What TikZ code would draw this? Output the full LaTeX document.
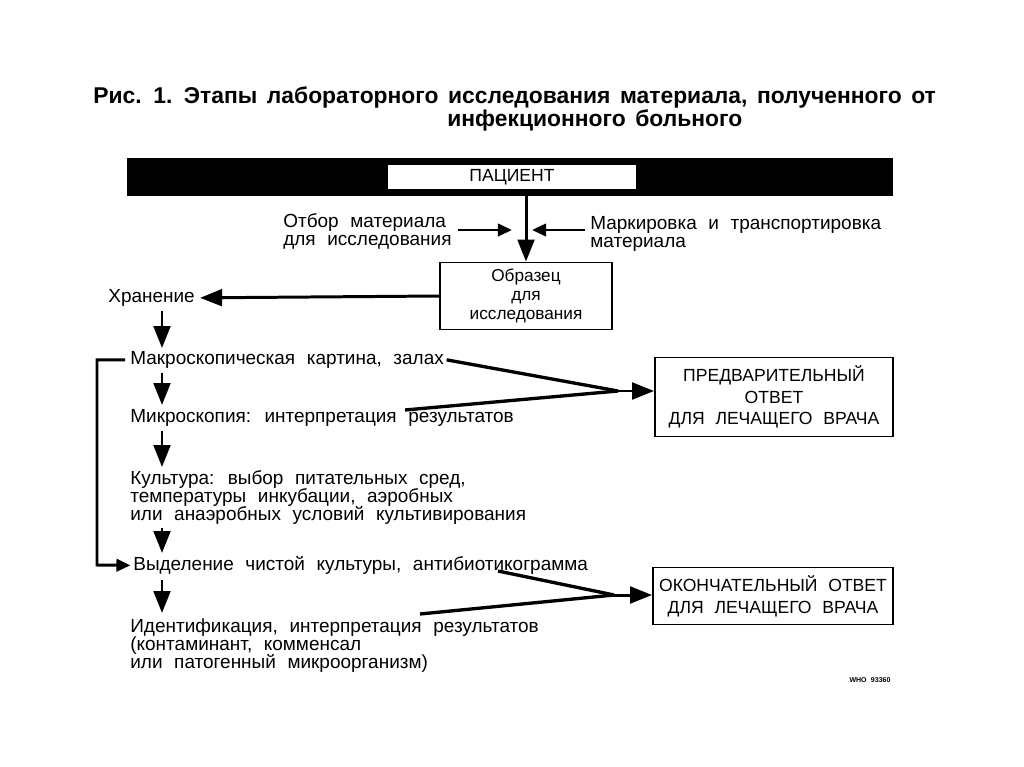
\documentclass[tikz,border=0pt]{standalone}
\usepackage{fontspec}
\setmainfont{Liberation Sans}[WordSpace=2.2]
\newfontfamily\titlefont{Liberation Sans}[WordSpace=1.5]
\usetikzlibrary{arrows.meta, positioning}
\tikzset{
  stagetext/.style={
    anchor=north west, align=left, inner sep=0pt,
    font=\fontsize{10.8}{10.3}\selectfont
  },
  titletext/.style={
    anchor=base west, inner sep=0pt,
    font=\titlefont\fontsize{13}{13}\selectfont\bfseries
  },
  answerbox/.style={
    rectangle, draw, line width=1.1pt, align=center,
    font=\fontsize{10}{12.4}\selectfont
  },
  bigarrow/.style={-{Triangle[length=12.5pt,width=9.5pt]}, line width=1.7pt},
  sidearrow/.style={-{Triangle[length=8pt,width=7pt]}, line width=1.7pt},
  joinline/.style={line width=1.9pt},
}

\begin{document}
\begin{tikzpicture}[x=0.02cm, y=-0.02cm]
  \useasboundingbox (0,0) rectangle (1024,767);

  % title
  \node[titletext] (title1) at (93,104)
    {Рис. 1. Этапы лабораторного исследования материала, полученного от};
  \node[titletext] (title2) at (447,127) {инфекционного больного};

  % patient bar
  \node[fill=black, minimum width=15.32cm, minimum height=0.76cm, inner sep=0pt]
    (bar) at (510,177) {};
  \node[fill=white, minimum width=4.96cm, minimum height=0.48cm, inner sep=0pt,
        font=\fontsize{10}{11}\selectfont] (patient) at (512,177) {ПАЦИЕНТ};

  \node[answerbox, minimum width=3.44cm, minimum height=1.34cm,
        font=\fontsize{9.8}{10.6}\selectfont] (sample) at (526,296)
    {Образец\\для\\исследования};

  \node[stagetext] (take) at (283,213) {Отбор материала\\для исследования};
  \node[stagetext] (label) at (590,216) {Маркировка и транспортировка\\материала};
  \coordinate (lin) at (512,230);
  \coordinate (rin) at (532,230);

  \draw[bigarrow] (bar.south -| sample.north) -- (sample.north);
  \draw[sidearrow] (458,230) -- (lin);
  \draw[sidearrow] (label.west |- rin) ++(-0.1cm,0) -- (rin);

  % stages
  \node[stagetext] (store) at (108,289) {Хранение};
  \node[stagetext] (macro) at (130,351) {Макроскопическая картина, залах};
  \node[stagetext] (micro) at (130,409) {Микроскопия: интерпретация результатов};
  \node[stagetext] (cult) at (130,470)
    {Культура: выбор питательных сред,\\температуры инкубации, аэробных\\или анаэробных условий культивирования};
  \node[stagetext] (pure) at (133,556) {Выделение чистой культуры, антибиотикограмма};
  \node[stagetext] (ident) at (130,618)
    {Идентификация, интерпретация результатов\\(контаминант, комменсал\\или патогенный микроорганизм)};

  \coordinate (col) at (162,0);
  \draw[bigarrow] (sample.west) -- ([xshift=0.1cm]store.east);
  \draw[bigarrow] (store.south -| col) ++(0,4) -- ([yshift=0.06cm]macro.north -| col);
  \draw[bigarrow] (macro.south -| col) ++(0,4) -- ([yshift=0.08cm]micro.north -| col);
  \draw[bigarrow] (micro.south -| col) ++(0,4) -- ([yshift=0.06cm]cult.north -| col);
  \draw[bigarrow] (cult.south -| col) ++(0,3) -- ([yshift=0.06cm]pure.north -| col);
  \draw[bigarrow] (pure.south -| col) ++(0,5) -- ([yshift=0.1cm]ident.north -| col);
  \draw[sidearrow] ([xshift=-0.1cm]macro.west) -| (97,565) -- ([xshift=-0.05cm]pure.west);

  % answers
  \node[answerbox, minimum width=4.76cm, minimum height=1.58cm] (prelim) at (774,397)
    {ПРЕДВАРИТЕЛЬНЫЙ\\ОТВЕТ\\ДЛЯ ЛЕЧАЩЕГО ВРАЧА};
  \node[answerbox, minimum width=4.8cm, minimum height=1.14cm] (final) at (773,596)
    {ОКОНЧАТЕЛЬНЫЙ ОТВЕТ\\ДЛЯ ЛЕЧАЩЕГО ВРАЧА};

  \coordinate (pj) at (618,391);
  \coordinate (mstart) at (405,410);
  \draw[joinline] ([xshift=0.05cm]macro.east) -- (pj);
  \draw[joinline] (mstart) -- (pj);
  \draw[bigarrow] (pj) -- (prelim.west |- pj);

  \coordinate (fj) at (614,595);
  \coordinate (pstart) at (498,571);
  \coordinate (istart) at (420,614);
  \draw[joinline] (pstart) -- (fj);
  \draw[joinline] (istart) -- (fj);
  \draw[bigarrow] (fj) -- (final.west |- fj);

  \node[font=\fontsize{4}{5}\selectfont\bfseries, inner sep=0pt] (who) at (870,680) {WHO 93360};
\end{tikzpicture}
\end{document}
